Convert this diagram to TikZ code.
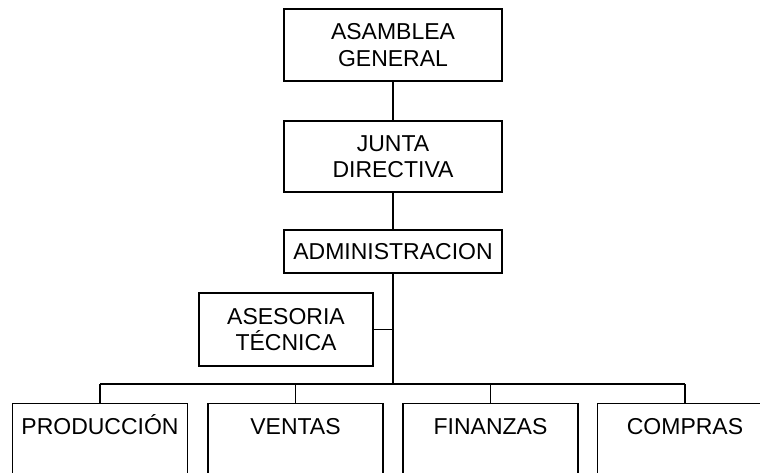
\documentclass[tikz,border=0pt]{standalone}
\usepackage{fontspec}
\setmainfont{Liberation Sans}
\begin{document}
\begin{tikzpicture}[x=1pt,y=-1pt,
  every node/.style={font=\fontsize{23}{26.5}\selectfont},
  box/.style={draw, line width=1.3pt, rectangle, align=center, inner sep=0pt},
  bot/.style={draw, line width=1.3pt, rectangle, anchor=north, minimum width=175pt,
    text height=16.5pt, text depth=70pt, inner xsep=0pt, inner ysep=14pt},
  conn/.style={line width=1.3pt}]
\useasboundingbox (0,0) rectangle (760,472);
\clip (0,0) rectangle (760,472);
\fill[white] (0,0) rectangle (760,472);
\node[box, minimum width=218pt, minimum height=72pt] (ag) at (393,45) {ASAMBLEA\\GENERAL};
\node[box, minimum width=218pt, minimum height=71pt] (jd) at (393,156.5) {JUNTA\\DIRECTIVA};
\node[box, minimum width=218pt, minimum height=43pt] (adm) at (393,251.5) {ADMINISTRACION};
\node[box, minimum width=174pt, minimum height=73pt] (as) at (286,329.5) {ASESORIA\\TÉCNICA};
\node[bot] (p) at (100,403) {PRODUCCIÓN};
\node[bot] (v) at (295.5,403) {VENTAS};
\node[bot] (f) at (490.5,403) {FINANZAS};
\node[bot] (c) at (685,403) {COMPRAS};
\coordinate (bus) at (393,384);
\draw[conn] (ag.south) -- (jd.north);
\draw[conn] (jd.south) -- (adm.north);
\draw[conn] (adm.south) -- (bus);
\draw[conn] (as.east) -- (as.east -| adm.south);
\draw[conn] (p.north |- bus) -- (c.north |- bus);
\foreach \n in {p,v,f,c} \draw[conn] (\n.north) -- (\n.north |- bus);
\end{tikzpicture}
\end{document}
